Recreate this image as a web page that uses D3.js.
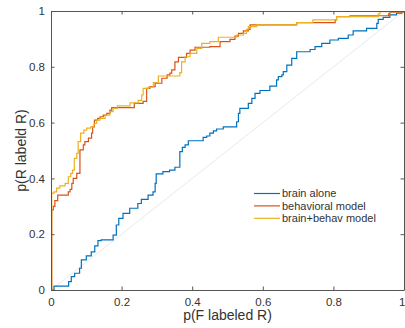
<!DOCTYPE html>
<html lang="en">
<head>
<meta charset="UTF-8">
<title>ROC curves</title>
<script src="https://cdnjs.cloudflare.com/ajax/libs/d3/7.8.5/d3.min.js"></script>
<style>
  body { margin: 0; background: #fff; }
  svg { display: block; font-family: "Liberation Sans", Arial, Helvetica, sans-serif; }
</style>
</head>
<body>
<div id="chart"></div>
<script>
// ROC points [false-positive rate, true-positive rate]
var brainAlone = [
  [0, 0], [0.0085, 0.014], [0.050, 0.030], [0.0575, 0.048], [0.067, 0.060], [0.081, 0.078],
  [0.086, 0.108], [0.100, 0.122], [0.114, 0.137], [0.124, 0.158], [0.133, 0.177], [0.142, 0.180],
  [0.176, 0.197], [0.185, 0.233], [0.192, 0.257], [0.204, 0.275], [0.223, 0.293], [0.246, 0.310],
  [0.256, 0.325], [0.275, 0.340], [0.289, 0.352], [0.295, 0.382], [0.298, 0.416], [0.317, 0.424],
  [0.336, 0.430], [0.351, 0.440], [0.365, 0.496], [0.372, 0.511], [0.380, 0.520], [0.389, 0.535],
  [0.431, 0.547], [0.441, 0.552], [0.450, 0.562], [0.460, 0.570], [0.469, 0.577], [0.488, 0.585],
  [0.526, 0.603], [0.531, 0.633], [0.535, 0.651], [0.559, 0.669], [0.569, 0.687], [0.578, 0.705],
  [0.592, 0.715], [0.620, 0.731], [0.639, 0.753], [0.644, 0.765], [0.654, 0.771], [0.658, 0.783],
  [0.668, 0.806], [0.682, 0.830], [0.696, 0.854], [0.734, 0.862], [0.748, 0.872], [0.767, 0.884],
  [0.790, 0.896], [0.814, 0.902], [0.842, 0.914], [0.856, 0.929], [0.894, 0.938], [0.923, 0.956],
  [0.927, 0.970], [0.941, 0.977], [0.960, 0.986], [0.979, 0.992], [0.994, 0.998], [1, 1]
];

var behavioral = [
  [0, 0], [0.002, 0.287], [0.0065, 0.300], [0.011, 0.320], [0.019, 0.340], [0.049, 0.352],
  [0.054, 0.361], [0.059, 0.382], [0.063, 0.400], [0.073, 0.418], [0.082, 0.502], [0.0915, 0.520],
  [0.096, 0.532], [0.106, 0.544], [0.115, 0.562], [0.118, 0.585], [0.123, 0.609], [0.132, 0.615],
  [0.139, 0.621], [0.148, 0.627], [0.158, 0.633], [0.167, 0.645], [0.172, 0.654], [0.236, 0.669],
  [0.261, 0.676], [0.271, 0.723], [0.280, 0.729], [0.295, 0.741], [0.314, 0.759], [0.329, 0.771],
  [0.337, 0.777], [0.342, 0.789], [0.351, 0.818], [0.361, 0.834], [0.384, 0.848], [0.394, 0.860],
  [0.408, 0.870], [0.450, 0.872], [0.479, 0.890], [0.507, 0.898], [0.521, 0.910], [0.531, 0.920],
  [0.545, 0.929], [0.559, 0.934], [0.564, 0.950], [0.696, 0.958], [0.805, 0.968], [0.809, 0.980],
  [0.847, 0.983], [0.956, 0.990], [0.960, 0.996], [1, 1]
];

var brainBehav = [
  [0, 0], [0.002, 0.347], [0.0085, 0.352], [0.016, 0.365], [0.025, 0.373], [0.040, 0.382],
  [0.049, 0.406], [0.056, 0.418], [0.061, 0.430], [0.066, 0.472], [0.073, 0.490], [0.077, 0.532],
  [0.084, 0.562], [0.093, 0.573], [0.101, 0.580], [0.112, 0.585], [0.122, 0.597], [0.129, 0.609],
  [0.139, 0.615], [0.153, 0.627], [0.167, 0.639], [0.176, 0.651], [0.188, 0.660], [0.224, 0.671],
  [0.247, 0.680], [0.257, 0.699], [0.261, 0.723], [0.276, 0.727], [0.290, 0.743], [0.304, 0.767],
  [0.365, 0.779], [0.370, 0.818], [0.380, 0.836], [0.394, 0.848], [0.413, 0.866], [0.427, 0.884],
  [0.450, 0.890], [0.474, 0.906], [0.526, 0.914], [0.545, 0.920], [0.554, 0.934], [0.559, 0.944],
  [0.583, 0.950], [0.696, 0.958], [0.742, 0.968], [0.809, 0.980], [0.927, 0.990], [0.932, 0.998],
  [1, 1]
];

var seriesNames = ["brain alone", "behavioral model", "brain+behav model"];
var seriesColors = ["#0072BD", "#D95319", "#EDB120"];
var tickValues = [0, 0.2, 0.4, 0.6, 0.8, 1];
var tickLabels = ["0", "0.2", "0.4", "0.6", "0.8", "1"];

var W = 405, H = 328;
var margin = {top: 11, right: 1, bottom: 38, left: 51};
var width = W - margin.left - margin.right,
    height = H - margin.top - margin.bottom;

var svg = d3.select("#chart").append("svg")
    .attr("width", W)
    .attr("height", H);

var g = svg.append("g")
    .attr("transform", "translate(" + margin.left + "," + margin.top + ")");

var x = d3.scaleLinear().domain([0, 1]).range([0, width]);
var y = d3.scaleLinear().domain([0, 1]).range([height, 0]);

// chance diagonal
g.append("line")
    .attr("x1", x(0)).attr("y1", y(0))
    .attr("x2", x(1)).attr("y2", y(1))
    .attr("stroke", "#dfe3e8")
    .attr("stroke-width", 0.8);

var line = d3.line()
    .x(function(d) { return x(d[0]); })
    .y(function(d) { return y(d[1]); })
    .curve(d3.curveStepAfter);

[brainAlone, behavioral, brainBehav].forEach(function(data, i) {
    g.append("path")
        .datum(data)
        .attr("fill", "none")
        .attr("stroke", seriesColors[i])
        .attr("stroke-width", 1.2)
        .attr("d", line);
});

// axes (MATLAB style box with inward ticks)
var fmt = function(d, i) { return tickLabels[i]; };
var axColor = "#555";

var xAxis = g.append("g")
    .attr("transform", "translate(0," + height + ")")
    .call(d3.axisBottom(x).tickValues(tickValues).tickFormat(fmt).tickSizeInner(-3.5).tickSizeOuter(0).tickPadding(8));
var yAxis = g.append("g")
    .call(d3.axisLeft(y).tickValues(tickValues).tickFormat(fmt).tickSizeInner(-3.5).tickSizeOuter(0).tickPadding(6));
var xTop = g.append("g")
    .call(d3.axisTop(x).tickValues(tickValues).tickFormat("").tickSizeInner(-3.5).tickSizeOuter(0));
var yRight = g.append("g")
    .attr("transform", "translate(" + width + ",0)")
    .call(d3.axisRight(y).tickValues(tickValues).tickFormat("").tickSizeInner(-3.5).tickSizeOuter(0));

[xAxis, yAxis, xTop, yRight].forEach(function(a) {
    a.select(".domain").attr("stroke", axColor);
    a.selectAll(".tick line").attr("stroke", axColor);
    a.selectAll(".tick text")
        .attr("fill", "#333")
        .style("font-size", "11.5px")
        .style("font-family", "'Liberation Sans', Arial, sans-serif");
});

// last x label sits at the window edge: keep it inside
xAxis.selectAll(".tick text")
    .filter(function(d) { return d === 1; })
    .attr("text-anchor", "end")
    .attr("x", 1);

// axis labels
svg.append("text")
    .attr("x", margin.left + width / 2)
    .attr("y", 320)
    .attr("text-anchor", "middle")
    .attr("fill", "#333")
    .style("font-size", "14px")
    .text("p(F labeled R)");

svg.append("text")
    .attr("transform", "translate(26," + (margin.top + height / 2) + ") rotate(-90)")
    .attr("text-anchor", "middle")
    .attr("fill", "#333")
    .style("font-size", "14px")
    .text("p(R labeld R)");

// legend
var legend = svg.selectAll(".legend")
    .data(seriesNames)
    .enter().append("g")
    .attr("class", "legend")
    .attr("transform", function(d, i) { return "translate(254," + (193.5 + i * 12.4) + ")"; });

legend.append("line")
    .attr("x1", 0).attr("x2", 26)
    .attr("stroke", function(d, i) { return seriesColors[i]; })
    .attr("stroke-width", 1.2);

legend.append("text")
    .attr("x", 28)
    .attr("dy", "0.35em")
    .attr("fill", "#333")
    .style("font-size", "11px")
    .text(function(d) { return d; });
</script>
</body>
</html>
